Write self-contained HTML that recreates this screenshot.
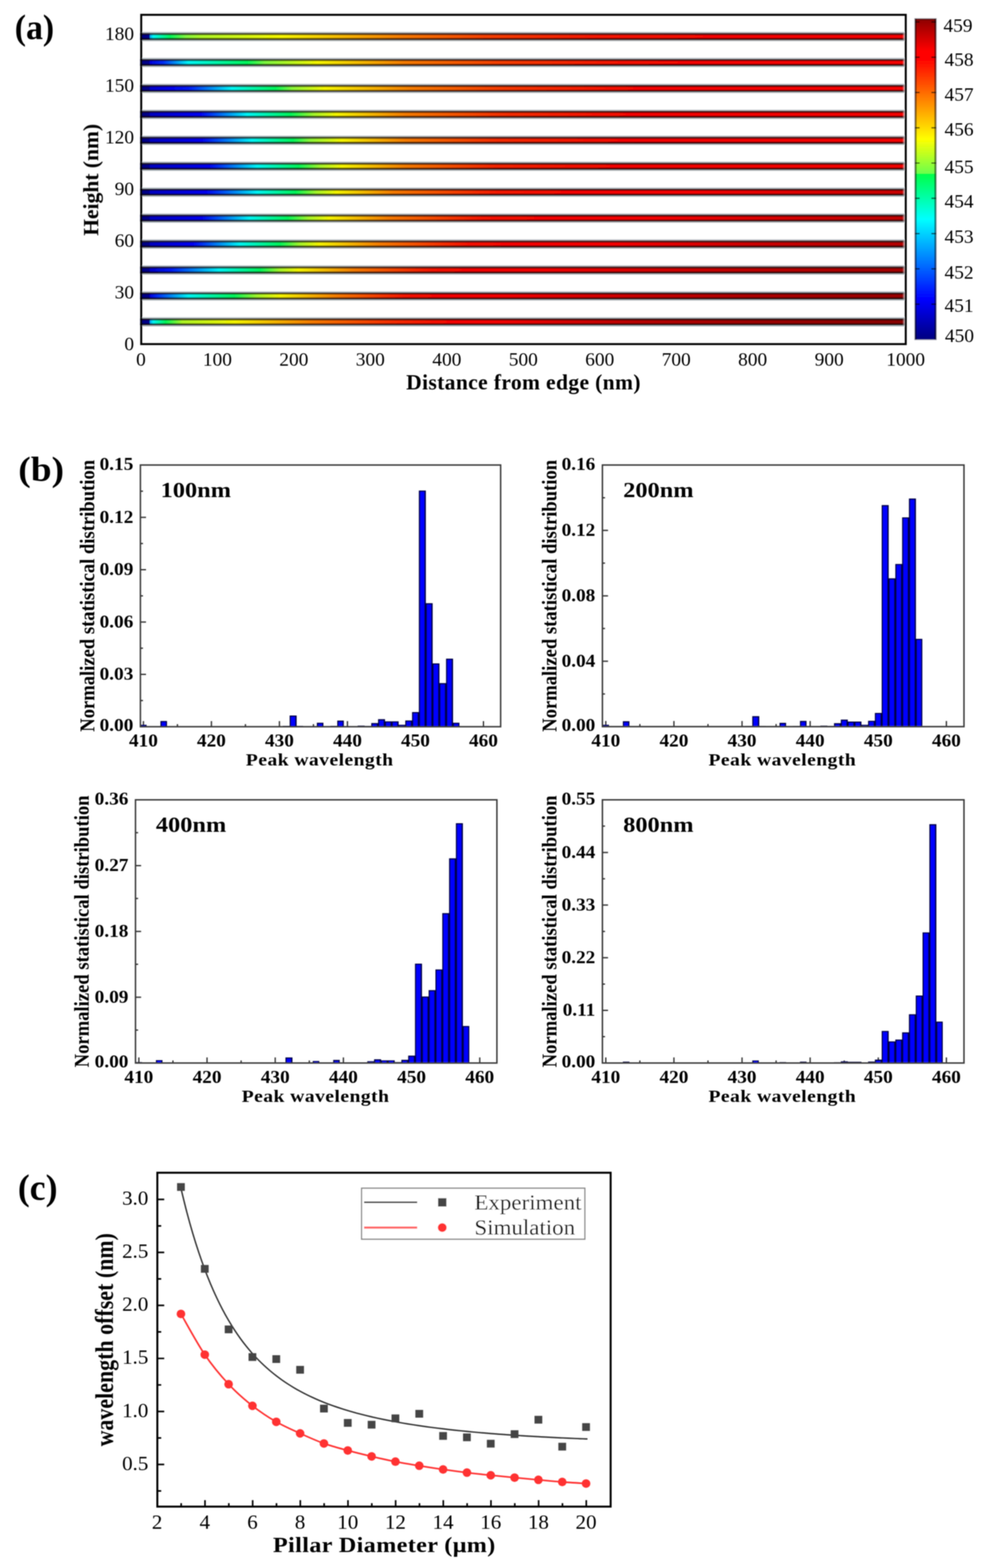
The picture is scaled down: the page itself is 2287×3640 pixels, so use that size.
<!DOCTYPE html>
<html lang="en"><head><meta charset="utf-8"><title>Figure</title>
<style>html,body{margin:0;padding:0;background:#fff}body{width:2287px;height:3640px}svg{display:block}text{font-family:'Liberation Serif', serif}</style>
</head><body>
<svg width="2287" height="3640" viewBox="0 0 2287 3640">
<rect width="2287" height="3640" fill="#fff"/>
<defs><filter id="bl" filterUnits="userSpaceOnUse" x="0" y="0" width="2287" height="3640"><feGaussianBlur stdDeviation="1.00"/></filter></defs>
<g filter="url(#bl)">
<defs>
<linearGradient id="se" x1="0" y1="0" x2="0" y2="1"><stop offset="0" stop-color="#2a2424" stop-opacity="0.9"/><stop offset="0.17" stop-color="#2a2020" stop-opacity="0.9"/><stop offset="0.23" stop-color="#000" stop-opacity="0.42"/><stop offset="0.42" stop-color="#000" stop-opacity="0"/><stop offset="0.58" stop-color="#000" stop-opacity="0.02"/><stop offset="0.77" stop-color="#000" stop-opacity="0.34"/><stop offset="0.83" stop-color="#180808" stop-opacity="0.92"/><stop offset="1" stop-color="#181010" stop-opacity="0.92"/></linearGradient>
<linearGradient id="sh" x1="0" y1="0" x2="0" y2="1"><stop offset="0" stop-color="#b8c0c6" stop-opacity="0"/><stop offset="0.06" stop-color="#b8c0c6" stop-opacity="1"/><stop offset="0.94" stop-color="#a4acb0" stop-opacity="1"/><stop offset="1" stop-color="#a4acb0" stop-opacity="0"/></linearGradient>
<linearGradient id="s0" x1="0" y1="0" x2="1" y2="0">
<stop offset="0.0000" stop-color="#000080"/>
<stop offset="0.0120" stop-color="#000094"/>
<stop offset="0.0130" stop-color="#00b2ff"/>
<stop offset="0.0170" stop-color="#00ffff"/>
<stop offset="0.0390" stop-color="#00ff5d"/>
<stop offset="0.0595" stop-color="#84ff40"/>
<stop offset="0.0800" stop-color="#b4ff27"/>
<stop offset="0.1062" stop-color="#c7ff1d"/>
<stop offset="0.1325" stop-color="#d9ff13"/>
<stop offset="0.1588" stop-color="#ecff0a"/>
<stop offset="0.1850" stop-color="#ffff00"/>
<stop offset="0.2108" stop-color="#ffea00"/>
<stop offset="0.2367" stop-color="#ffd500"/>
<stop offset="0.2625" stop-color="#ffbf00"/>
<stop offset="0.2883" stop-color="#ffaa00"/>
<stop offset="0.3142" stop-color="#ff9500"/>
<stop offset="0.3400" stop-color="#ff8000"/>
<stop offset="0.3675" stop-color="#ff7000"/>
<stop offset="0.3950" stop-color="#ff6100"/>
<stop offset="0.4225" stop-color="#ff5200"/>
<stop offset="0.4500" stop-color="#ff4200"/>
<stop offset="0.4750" stop-color="#ff3b00"/>
<stop offset="0.5000" stop-color="#ff3300"/>
<stop offset="0.5250" stop-color="#ff2b00"/>
<stop offset="0.5500" stop-color="#ff2400"/>
<stop offset="0.5750" stop-color="#ff1c00"/>
<stop offset="0.6000" stop-color="#ff1400"/>
<stop offset="0.6250" stop-color="#ff1200"/>
<stop offset="0.6500" stop-color="#ff0f00"/>
<stop offset="0.6750" stop-color="#ff0d00"/>
<stop offset="0.7000" stop-color="#ff0a00"/>
<stop offset="0.7250" stop-color="#ff0800"/>
<stop offset="0.7500" stop-color="#ff0500"/>
<stop offset="0.7750" stop-color="#ff0300"/>
<stop offset="0.8000" stop-color="#ff0000"/>
<stop offset="0.8250" stop-color="#ff0000"/>
<stop offset="0.8500" stop-color="#ff0000"/>
<stop offset="0.8750" stop-color="#ff0000"/>
<stop offset="0.9000" stop-color="#ff0000"/>
<stop offset="0.9250" stop-color="#ff0000"/>
<stop offset="0.9500" stop-color="#ff0000"/>
<stop offset="0.9750" stop-color="#ff0000"/>
<stop offset="1.0000" stop-color="#ff0000"/>
</linearGradient>
<linearGradient id="s1" x1="0" y1="0" x2="1" y2="0">
<stop offset="0.0000" stop-color="#000080"/>
<stop offset="0.0120" stop-color="#000094"/>
<stop offset="0.0130" stop-color="#0000e6"/>
<stop offset="0.0300" stop-color="#002eff"/>
<stop offset="0.0630" stop-color="#00ffff"/>
<stop offset="0.0887" stop-color="#00ffc9"/>
<stop offset="0.1143" stop-color="#00ff93"/>
<stop offset="0.1400" stop-color="#00ff5d"/>
<stop offset="0.1630" stop-color="#7fff42"/>
<stop offset="0.1860" stop-color="#a9ff2c"/>
<stop offset="0.2090" stop-color="#d4ff16"/>
<stop offset="0.2320" stop-color="#ffff00"/>
<stop offset="0.2546" stop-color="#ffe500"/>
<stop offset="0.2772" stop-color="#ffcc00"/>
<stop offset="0.2998" stop-color="#ffb300"/>
<stop offset="0.3224" stop-color="#ff9900"/>
<stop offset="0.3450" stop-color="#ff8000"/>
<stop offset="0.3690" stop-color="#ff7300"/>
<stop offset="0.3930" stop-color="#ff6700"/>
<stop offset="0.4170" stop-color="#ff5b00"/>
<stop offset="0.4410" stop-color="#ff4f00"/>
<stop offset="0.4650" stop-color="#ff4200"/>
<stop offset="0.4914" stop-color="#ff3a00"/>
<stop offset="0.5179" stop-color="#ff3200"/>
<stop offset="0.5443" stop-color="#ff2a00"/>
<stop offset="0.5707" stop-color="#ff2200"/>
<stop offset="0.5971" stop-color="#ff1a00"/>
<stop offset="0.6236" stop-color="#ff1200"/>
<stop offset="0.6500" stop-color="#ff0a00"/>
<stop offset="0.6750" stop-color="#ff0800"/>
<stop offset="0.7000" stop-color="#ff0700"/>
<stop offset="0.7250" stop-color="#ff0500"/>
<stop offset="0.7500" stop-color="#ff0300"/>
<stop offset="0.7750" stop-color="#ff0200"/>
<stop offset="0.8000" stop-color="#ff0000"/>
<stop offset="0.8250" stop-color="#ff0000"/>
<stop offset="0.8500" stop-color="#ff0000"/>
<stop offset="0.8750" stop-color="#ff0000"/>
<stop offset="0.9000" stop-color="#ff0000"/>
<stop offset="0.9250" stop-color="#ff0000"/>
<stop offset="0.9500" stop-color="#ff0000"/>
<stop offset="0.9750" stop-color="#ff0000"/>
<stop offset="1.0000" stop-color="#ff0000"/>
</linearGradient>
<linearGradient id="s2" x1="0" y1="0" x2="1" y2="0">
<stop offset="0.0000" stop-color="#000080"/>
<stop offset="0.0120" stop-color="#000094"/>
<stop offset="0.0130" stop-color="#0000d1"/>
<stop offset="0.0380" stop-color="#0000f5"/>
<stop offset="0.0630" stop-color="#0019ff"/>
<stop offset="0.0915" stop-color="#008cff"/>
<stop offset="0.1200" stop-color="#00ffff"/>
<stop offset="0.1485" stop-color="#00ffae"/>
<stop offset="0.1770" stop-color="#00ff5d"/>
<stop offset="0.1987" stop-color="#8dff3b"/>
<stop offset="0.2203" stop-color="#c6ff1e"/>
<stop offset="0.2420" stop-color="#ffff00"/>
<stop offset="0.2646" stop-color="#ffe500"/>
<stop offset="0.2872" stop-color="#ffcc00"/>
<stop offset="0.3098" stop-color="#ffb300"/>
<stop offset="0.3324" stop-color="#ff9900"/>
<stop offset="0.3550" stop-color="#ff8000"/>
<stop offset="0.3780" stop-color="#ff7200"/>
<stop offset="0.4010" stop-color="#ff6500"/>
<stop offset="0.4240" stop-color="#ff5800"/>
<stop offset="0.4470" stop-color="#ff4a00"/>
<stop offset="0.4700" stop-color="#ff3d00"/>
<stop offset="0.4957" stop-color="#ff3500"/>
<stop offset="0.5214" stop-color="#ff2d00"/>
<stop offset="0.5471" stop-color="#ff2500"/>
<stop offset="0.5729" stop-color="#ff1d00"/>
<stop offset="0.5986" stop-color="#ff1500"/>
<stop offset="0.6243" stop-color="#ff0d00"/>
<stop offset="0.6500" stop-color="#ff0500"/>
<stop offset="0.6750" stop-color="#ff0400"/>
<stop offset="0.7000" stop-color="#ff0200"/>
<stop offset="0.7250" stop-color="#ff0100"/>
<stop offset="0.7500" stop-color="#ff0000"/>
<stop offset="0.7750" stop-color="#ff0000"/>
<stop offset="0.8000" stop-color="#ff0000"/>
<stop offset="0.8250" stop-color="#ff0000"/>
<stop offset="0.8500" stop-color="#ff0000"/>
<stop offset="0.8750" stop-color="#ff0000"/>
<stop offset="0.9000" stop-color="#ff0000"/>
<stop offset="0.9250" stop-color="#ff0000"/>
<stop offset="0.9500" stop-color="#ff0000"/>
<stop offset="0.9750" stop-color="#ff0000"/>
<stop offset="1.0000" stop-color="#ff0000"/>
</linearGradient>
<linearGradient id="s3" x1="0" y1="0" x2="1" y2="0">
<stop offset="0.0000" stop-color="#000080"/>
<stop offset="0.0120" stop-color="#000094"/>
<stop offset="0.0130" stop-color="#0000c7"/>
<stop offset="0.0353" stop-color="#0000db"/>
<stop offset="0.0577" stop-color="#0000f0"/>
<stop offset="0.0800" stop-color="#0005ff"/>
<stop offset="0.1100" stop-color="#0082ff"/>
<stop offset="0.1400" stop-color="#00ffff"/>
<stop offset="0.1685" stop-color="#00ffae"/>
<stop offset="0.1970" stop-color="#00ff5d"/>
<stop offset="0.2270" stop-color="#a9ff2c"/>
<stop offset="0.2570" stop-color="#ffff00"/>
<stop offset="0.2795" stop-color="#ffdf00"/>
<stop offset="0.3020" stop-color="#ffbf00"/>
<stop offset="0.3245" stop-color="#ff9f00"/>
<stop offset="0.3470" stop-color="#ff8000"/>
<stop offset="0.3736" stop-color="#ff6f00"/>
<stop offset="0.4002" stop-color="#ff5f00"/>
<stop offset="0.4268" stop-color="#ff4f00"/>
<stop offset="0.4534" stop-color="#ff3e00"/>
<stop offset="0.4800" stop-color="#ff2e00"/>
<stop offset="0.5043" stop-color="#ff2800"/>
<stop offset="0.5286" stop-color="#ff2200"/>
<stop offset="0.5529" stop-color="#ff1c00"/>
<stop offset="0.5771" stop-color="#ff1500"/>
<stop offset="0.6014" stop-color="#ff0f00"/>
<stop offset="0.6257" stop-color="#ff0900"/>
<stop offset="0.6500" stop-color="#ff0300"/>
<stop offset="0.6750" stop-color="#ff0200"/>
<stop offset="0.7000" stop-color="#ff0000"/>
<stop offset="0.7250" stop-color="#ff0000"/>
<stop offset="0.7500" stop-color="#ff0000"/>
<stop offset="0.7750" stop-color="#ff0000"/>
<stop offset="0.8000" stop-color="#ff0000"/>
<stop offset="0.8250" stop-color="#ff0000"/>
<stop offset="0.8500" stop-color="#ff0000"/>
<stop offset="0.8750" stop-color="#ff0000"/>
<stop offset="0.9000" stop-color="#ff0000"/>
<stop offset="0.9250" stop-color="#ff0000"/>
<stop offset="0.9500" stop-color="#ff0000"/>
<stop offset="0.9750" stop-color="#ff0000"/>
<stop offset="1.0000" stop-color="#ff0000"/>
</linearGradient>
<linearGradient id="s4" x1="0" y1="0" x2="1" y2="0">
<stop offset="0.0000" stop-color="#000080"/>
<stop offset="0.0120" stop-color="#000094"/>
<stop offset="0.0130" stop-color="#0000c7"/>
<stop offset="0.0353" stop-color="#0000d8"/>
<stop offset="0.0577" stop-color="#0000e9"/>
<stop offset="0.0800" stop-color="#0000fa"/>
<stop offset="0.1020" stop-color="#0052ff"/>
<stop offset="0.1240" stop-color="#00a8ff"/>
<stop offset="0.1460" stop-color="#00ffff"/>
<stop offset="0.1730" stop-color="#00ffae"/>
<stop offset="0.2000" stop-color="#00ff5d"/>
<stop offset="0.2213" stop-color="#8dff3b"/>
<stop offset="0.2427" stop-color="#c6ff1e"/>
<stop offset="0.2640" stop-color="#ffff00"/>
<stop offset="0.2917" stop-color="#ffd500"/>
<stop offset="0.3193" stop-color="#ffaa00"/>
<stop offset="0.3470" stop-color="#ff8000"/>
<stop offset="0.3706" stop-color="#ff6f00"/>
<stop offset="0.3942" stop-color="#ff5f00"/>
<stop offset="0.4178" stop-color="#ff4f00"/>
<stop offset="0.4414" stop-color="#ff3e00"/>
<stop offset="0.4650" stop-color="#ff2e00"/>
<stop offset="0.4914" stop-color="#ff2700"/>
<stop offset="0.5179" stop-color="#ff2100"/>
<stop offset="0.5443" stop-color="#ff1a00"/>
<stop offset="0.5707" stop-color="#ff1400"/>
<stop offset="0.5971" stop-color="#ff0d00"/>
<stop offset="0.6236" stop-color="#ff0700"/>
<stop offset="0.6500" stop-color="#ff0000"/>
<stop offset="0.6750" stop-color="#ff0000"/>
<stop offset="0.7000" stop-color="#ff0000"/>
<stop offset="0.7250" stop-color="#ff0000"/>
<stop offset="0.7500" stop-color="#ff0000"/>
<stop offset="0.7750" stop-color="#ff0000"/>
<stop offset="0.8000" stop-color="#ff0000"/>
<stop offset="0.8250" stop-color="#ff0000"/>
<stop offset="0.8500" stop-color="#ff0000"/>
<stop offset="0.8750" stop-color="#ff0000"/>
<stop offset="0.9000" stop-color="#ff0000"/>
<stop offset="0.9250" stop-color="#ff0000"/>
<stop offset="0.9500" stop-color="#ff0000"/>
<stop offset="0.9750" stop-color="#ff0000"/>
<stop offset="1.0000" stop-color="#ff0000"/>
</linearGradient>
<linearGradient id="s5" x1="0" y1="0" x2="1" y2="0">
<stop offset="0.0000" stop-color="#000080"/>
<stop offset="0.0120" stop-color="#000094"/>
<stop offset="0.0130" stop-color="#0000c7"/>
<stop offset="0.0387" stop-color="#0000d8"/>
<stop offset="0.0643" stop-color="#0000e9"/>
<stop offset="0.0900" stop-color="#0000fa"/>
<stop offset="0.1110" stop-color="#0052ff"/>
<stop offset="0.1320" stop-color="#00a8ff"/>
<stop offset="0.1530" stop-color="#00ffff"/>
<stop offset="0.1800" stop-color="#00ffae"/>
<stop offset="0.2070" stop-color="#00ff5d"/>
<stop offset="0.2355" stop-color="#a9ff2c"/>
<stop offset="0.2640" stop-color="#ffff00"/>
<stop offset="0.2917" stop-color="#ffd500"/>
<stop offset="0.3193" stop-color="#ffaa00"/>
<stop offset="0.3470" stop-color="#ff8000"/>
<stop offset="0.3706" stop-color="#ff6d00"/>
<stop offset="0.3942" stop-color="#ff5b00"/>
<stop offset="0.4178" stop-color="#ff4800"/>
<stop offset="0.4414" stop-color="#ff3600"/>
<stop offset="0.4650" stop-color="#ff2400"/>
<stop offset="0.4914" stop-color="#ff1f00"/>
<stop offset="0.5179" stop-color="#ff1a00"/>
<stop offset="0.5443" stop-color="#ff1400"/>
<stop offset="0.5707" stop-color="#ff0f00"/>
<stop offset="0.5971" stop-color="#ff0a00"/>
<stop offset="0.6236" stop-color="#ff0500"/>
<stop offset="0.6500" stop-color="#ff0000"/>
<stop offset="0.6750" stop-color="#ff0000"/>
<stop offset="0.7000" stop-color="#ff0000"/>
<stop offset="0.7250" stop-color="#ff0000"/>
<stop offset="0.7500" stop-color="#ff0000"/>
<stop offset="0.7750" stop-color="#ff0000"/>
<stop offset="0.8000" stop-color="#ff0000"/>
<stop offset="0.8250" stop-color="#ff0000"/>
<stop offset="0.8500" stop-color="#ff0000"/>
<stop offset="0.8750" stop-color="#ff0000"/>
<stop offset="0.9000" stop-color="#ff0000"/>
<stop offset="0.9250" stop-color="#ff0000"/>
<stop offset="0.9500" stop-color="#fe0000"/>
<stop offset="0.9750" stop-color="#fc0000"/>
<stop offset="1.0000" stop-color="#f90000"/>
</linearGradient>
<linearGradient id="s6" x1="0" y1="0" x2="1" y2="0">
<stop offset="0.0000" stop-color="#000080"/>
<stop offset="0.0120" stop-color="#000094"/>
<stop offset="0.0130" stop-color="#0000c7"/>
<stop offset="0.0373" stop-color="#0000d8"/>
<stop offset="0.0617" stop-color="#0000e9"/>
<stop offset="0.0860" stop-color="#0000fa"/>
<stop offset="0.1083" stop-color="#0052ff"/>
<stop offset="0.1307" stop-color="#00a8ff"/>
<stop offset="0.1530" stop-color="#00ffff"/>
<stop offset="0.1780" stop-color="#00ffae"/>
<stop offset="0.2030" stop-color="#00ff5d"/>
<stop offset="0.2300" stop-color="#a9ff2c"/>
<stop offset="0.2570" stop-color="#ffff00"/>
<stop offset="0.2817" stop-color="#ffd500"/>
<stop offset="0.3063" stop-color="#ffaa00"/>
<stop offset="0.3310" stop-color="#ff8000"/>
<stop offset="0.3578" stop-color="#ff6b00"/>
<stop offset="0.3846" stop-color="#ff5700"/>
<stop offset="0.4114" stop-color="#ff4200"/>
<stop offset="0.4382" stop-color="#ff2e00"/>
<stop offset="0.4650" stop-color="#ff1a00"/>
<stop offset="0.4914" stop-color="#ff1400"/>
<stop offset="0.5179" stop-color="#ff0e00"/>
<stop offset="0.5443" stop-color="#ff0800"/>
<stop offset="0.5707" stop-color="#ff0200"/>
<stop offset="0.5971" stop-color="#ff0000"/>
<stop offset="0.6236" stop-color="#ff0000"/>
<stop offset="0.6500" stop-color="#ff0000"/>
<stop offset="0.6750" stop-color="#ff0000"/>
<stop offset="0.7000" stop-color="#ff0000"/>
<stop offset="0.7250" stop-color="#ff0000"/>
<stop offset="0.7500" stop-color="#fb0000"/>
<stop offset="0.7750" stop-color="#f70000"/>
<stop offset="0.8000" stop-color="#f40000"/>
<stop offset="0.8250" stop-color="#ef0000"/>
<stop offset="0.8500" stop-color="#eb0000"/>
<stop offset="0.8750" stop-color="#e70000"/>
<stop offset="0.9000" stop-color="#e20000"/>
<stop offset="0.9250" stop-color="#de0000"/>
<stop offset="0.9500" stop-color="#da0000"/>
<stop offset="0.9750" stop-color="#d50000"/>
<stop offset="1.0000" stop-color="#d10000"/>
</linearGradient>
<linearGradient id="s7" x1="0" y1="0" x2="1" y2="0">
<stop offset="0.0000" stop-color="#000080"/>
<stop offset="0.0120" stop-color="#000094"/>
<stop offset="0.0130" stop-color="#0000c7"/>
<stop offset="0.0353" stop-color="#0000d8"/>
<stop offset="0.0577" stop-color="#0000e9"/>
<stop offset="0.0800" stop-color="#0000fa"/>
<stop offset="0.1010" stop-color="#0052ff"/>
<stop offset="0.1220" stop-color="#00a8ff"/>
<stop offset="0.1430" stop-color="#00ffff"/>
<stop offset="0.1680" stop-color="#00ffae"/>
<stop offset="0.1930" stop-color="#00ff5d"/>
<stop offset="0.2200" stop-color="#a9ff2c"/>
<stop offset="0.2470" stop-color="#ffff00"/>
<stop offset="0.2727" stop-color="#ffd500"/>
<stop offset="0.2983" stop-color="#ffaa00"/>
<stop offset="0.3240" stop-color="#ff8000"/>
<stop offset="0.3488" stop-color="#ff6a00"/>
<stop offset="0.3736" stop-color="#ff5500"/>
<stop offset="0.3984" stop-color="#ff3f00"/>
<stop offset="0.4232" stop-color="#ff2a00"/>
<stop offset="0.4480" stop-color="#ff1400"/>
<stop offset="0.4733" stop-color="#ff0f00"/>
<stop offset="0.4985" stop-color="#ff0a00"/>
<stop offset="0.5238" stop-color="#ff0500"/>
<stop offset="0.5490" stop-color="#ff0000"/>
<stop offset="0.5743" stop-color="#ff0000"/>
<stop offset="0.5995" stop-color="#ff0000"/>
<stop offset="0.6248" stop-color="#ff0000"/>
<stop offset="0.6500" stop-color="#ff0000"/>
<stop offset="0.6750" stop-color="#ff0000"/>
<stop offset="0.7000" stop-color="#fb0000"/>
<stop offset="0.7250" stop-color="#f60000"/>
<stop offset="0.7500" stop-color="#f20000"/>
<stop offset="0.7750" stop-color="#ed0000"/>
<stop offset="0.8000" stop-color="#e80000"/>
<stop offset="0.8250" stop-color="#e40000"/>
<stop offset="0.8500" stop-color="#df0000"/>
<stop offset="0.8750" stop-color="#db0000"/>
<stop offset="0.9000" stop-color="#d70000"/>
<stop offset="0.9250" stop-color="#d30000"/>
<stop offset="0.9500" stop-color="#ce0000"/>
<stop offset="0.9750" stop-color="#ca0000"/>
<stop offset="1.0000" stop-color="#c60000"/>
</linearGradient>
<linearGradient id="s8" x1="0" y1="0" x2="1" y2="0">
<stop offset="0.0000" stop-color="#000080"/>
<stop offset="0.0120" stop-color="#000094"/>
<stop offset="0.0130" stop-color="#0000c7"/>
<stop offset="0.0415" stop-color="#0000e6"/>
<stop offset="0.0700" stop-color="#0005ff"/>
<stop offset="0.1000" stop-color="#0082ff"/>
<stop offset="0.1300" stop-color="#00ffff"/>
<stop offset="0.1565" stop-color="#00ffae"/>
<stop offset="0.1830" stop-color="#00ff5d"/>
<stop offset="0.2085" stop-color="#a9ff2c"/>
<stop offset="0.2340" stop-color="#ffff00"/>
<stop offset="0.2607" stop-color="#ffd500"/>
<stop offset="0.2873" stop-color="#ffaa00"/>
<stop offset="0.3140" stop-color="#ff8000"/>
<stop offset="0.3374" stop-color="#ff6900"/>
<stop offset="0.3608" stop-color="#ff5300"/>
<stop offset="0.3842" stop-color="#ff3c00"/>
<stop offset="0.4076" stop-color="#ff2600"/>
<stop offset="0.4310" stop-color="#ff0f00"/>
<stop offset="0.4553" stop-color="#ff0a00"/>
<stop offset="0.4797" stop-color="#ff0500"/>
<stop offset="0.5040" stop-color="#ff0000"/>
<stop offset="0.5283" stop-color="#ff0000"/>
<stop offset="0.5527" stop-color="#ff0000"/>
<stop offset="0.5770" stop-color="#ff0000"/>
<stop offset="0.6013" stop-color="#ff0000"/>
<stop offset="0.6257" stop-color="#ff0000"/>
<stop offset="0.6500" stop-color="#f90000"/>
<stop offset="0.6750" stop-color="#f40000"/>
<stop offset="0.7000" stop-color="#ee0000"/>
<stop offset="0.7250" stop-color="#e80000"/>
<stop offset="0.7500" stop-color="#e20000"/>
<stop offset="0.7750" stop-color="#dd0000"/>
<stop offset="0.8000" stop-color="#d70000"/>
<stop offset="0.8250" stop-color="#d30000"/>
<stop offset="0.8500" stop-color="#d00000"/>
<stop offset="0.8750" stop-color="#cc0000"/>
<stop offset="0.9000" stop-color="#c80000"/>
<stop offset="0.9250" stop-color="#c50000"/>
<stop offset="0.9500" stop-color="#c10000"/>
<stop offset="0.9750" stop-color="#be0000"/>
<stop offset="1.0000" stop-color="#ba0000"/>
</linearGradient>
<linearGradient id="s9" x1="0" y1="0" x2="1" y2="0">
<stop offset="0.0000" stop-color="#000080"/>
<stop offset="0.0120" stop-color="#000094"/>
<stop offset="0.0130" stop-color="#0000d1"/>
<stop offset="0.0400" stop-color="#0019ff"/>
<stop offset="0.0610" stop-color="#0066ff"/>
<stop offset="0.0820" stop-color="#00b2ff"/>
<stop offset="0.1030" stop-color="#00ffff"/>
<stop offset="0.1300" stop-color="#00ffae"/>
<stop offset="0.1570" stop-color="#00ff5d"/>
<stop offset="0.1820" stop-color="#a9ff2c"/>
<stop offset="0.2070" stop-color="#ffff00"/>
<stop offset="0.2313" stop-color="#ffd500"/>
<stop offset="0.2557" stop-color="#ffaa00"/>
<stop offset="0.2800" stop-color="#ff8000"/>
<stop offset="0.3053" stop-color="#ff6500"/>
<stop offset="0.3305" stop-color="#ff4a00"/>
<stop offset="0.3558" stop-color="#ff2f00"/>
<stop offset="0.3810" stop-color="#ff1400"/>
<stop offset="0.4048" stop-color="#ff0c00"/>
<stop offset="0.4286" stop-color="#ff0400"/>
<stop offset="0.4524" stop-color="#ff0000"/>
<stop offset="0.4762" stop-color="#ff0000"/>
<stop offset="0.5000" stop-color="#ff0000"/>
<stop offset="0.5250" stop-color="#ff0000"/>
<stop offset="0.5500" stop-color="#f90000"/>
<stop offset="0.5750" stop-color="#f40000"/>
<stop offset="0.6000" stop-color="#ee0000"/>
<stop offset="0.6250" stop-color="#e80000"/>
<stop offset="0.6500" stop-color="#e20000"/>
<stop offset="0.6750" stop-color="#de0000"/>
<stop offset="0.7000" stop-color="#d90000"/>
<stop offset="0.7250" stop-color="#d40000"/>
<stop offset="0.7500" stop-color="#cf0000"/>
<stop offset="0.7750" stop-color="#ca0000"/>
<stop offset="0.8000" stop-color="#c60000"/>
<stop offset="0.8250" stop-color="#c20000"/>
<stop offset="0.8500" stop-color="#be0000"/>
<stop offset="0.8750" stop-color="#bb0000"/>
<stop offset="0.9000" stop-color="#b70000"/>
<stop offset="0.9250" stop-color="#b40000"/>
<stop offset="0.9500" stop-color="#b00000"/>
<stop offset="0.9750" stop-color="#ad0000"/>
<stop offset="1.0000" stop-color="#a90000"/>
</linearGradient>
<linearGradient id="s10" x1="0" y1="0" x2="1" y2="0">
<stop offset="0.0000" stop-color="#000080"/>
<stop offset="0.0120" stop-color="#000094"/>
<stop offset="0.0130" stop-color="#0000e6"/>
<stop offset="0.0220" stop-color="#002eff"/>
<stop offset="0.0425" stop-color="#0096ff"/>
<stop offset="0.0630" stop-color="#00ffff"/>
<stop offset="0.0930" stop-color="#00ffae"/>
<stop offset="0.1230" stop-color="#00ff5d"/>
<stop offset="0.1530" stop-color="#a9ff2c"/>
<stop offset="0.1830" stop-color="#ffff00"/>
<stop offset="0.2077" stop-color="#ffd500"/>
<stop offset="0.2323" stop-color="#ffaa00"/>
<stop offset="0.2570" stop-color="#ff8000"/>
<stop offset="0.2795" stop-color="#ff6500"/>
<stop offset="0.3020" stop-color="#ff4a00"/>
<stop offset="0.3245" stop-color="#ff2f00"/>
<stop offset="0.3470" stop-color="#ff1400"/>
<stop offset="0.3728" stop-color="#ff0a00"/>
<stop offset="0.3985" stop-color="#ff0000"/>
<stop offset="0.4243" stop-color="#ff0000"/>
<stop offset="0.4500" stop-color="#ff0000"/>
<stop offset="0.4750" stop-color="#fe0000"/>
<stop offset="0.5000" stop-color="#f80000"/>
<stop offset="0.5250" stop-color="#f10000"/>
<stop offset="0.5500" stop-color="#eb0000"/>
<stop offset="0.5750" stop-color="#e40000"/>
<stop offset="0.6000" stop-color="#de0000"/>
<stop offset="0.6250" stop-color="#d80000"/>
<stop offset="0.6500" stop-color="#d10000"/>
<stop offset="0.6750" stop-color="#cc0000"/>
<stop offset="0.7000" stop-color="#c80000"/>
<stop offset="0.7250" stop-color="#c30000"/>
<stop offset="0.7500" stop-color="#be0000"/>
<stop offset="0.7750" stop-color="#b90000"/>
<stop offset="0.8000" stop-color="#b40000"/>
<stop offset="0.8250" stop-color="#b20000"/>
<stop offset="0.8500" stop-color="#af0000"/>
<stop offset="0.8750" stop-color="#ac0000"/>
<stop offset="0.9000" stop-color="#a90000"/>
<stop offset="0.9250" stop-color="#a60000"/>
<stop offset="0.9500" stop-color="#a30000"/>
<stop offset="0.9750" stop-color="#a00000"/>
<stop offset="1.0000" stop-color="#9d0000"/>
</linearGradient>
<linearGradient id="s11" x1="0" y1="0" x2="1" y2="0">
<stop offset="0.0000" stop-color="#000080"/>
<stop offset="0.0120" stop-color="#000094"/>
<stop offset="0.0130" stop-color="#00b2ff"/>
<stop offset="0.0170" stop-color="#00ffff"/>
<stop offset="0.0330" stop-color="#00ff5d"/>
<stop offset="0.0550" stop-color="#b4ff27"/>
<stop offset="0.0780" stop-color="#cdff1a"/>
<stop offset="0.1010" stop-color="#e6ff0d"/>
<stop offset="0.1240" stop-color="#ffff00"/>
<stop offset="0.1492" stop-color="#ffdf00"/>
<stop offset="0.1745" stop-color="#ffbf00"/>
<stop offset="0.1998" stop-color="#ff9f00"/>
<stop offset="0.2250" stop-color="#ff8000"/>
<stop offset="0.2512" stop-color="#ff6b00"/>
<stop offset="0.2775" stop-color="#ff5700"/>
<stop offset="0.3038" stop-color="#ff4200"/>
<stop offset="0.3300" stop-color="#ff2e00"/>
<stop offset="0.3540" stop-color="#ff2100"/>
<stop offset="0.3780" stop-color="#ff1300"/>
<stop offset="0.4020" stop-color="#ff0600"/>
<stop offset="0.4260" stop-color="#ff0000"/>
<stop offset="0.4500" stop-color="#ff0000"/>
<stop offset="0.4750" stop-color="#fc0000"/>
<stop offset="0.5000" stop-color="#f40000"/>
<stop offset="0.5250" stop-color="#eb0000"/>
<stop offset="0.5500" stop-color="#e20000"/>
<stop offset="0.5750" stop-color="#da0000"/>
<stop offset="0.6000" stop-color="#d10000"/>
<stop offset="0.6250" stop-color="#c80000"/>
<stop offset="0.6500" stop-color="#c00000"/>
<stop offset="0.6750" stop-color="#bb0000"/>
<stop offset="0.7000" stop-color="#b60000"/>
<stop offset="0.7250" stop-color="#b20000"/>
<stop offset="0.7500" stop-color="#ad0000"/>
<stop offset="0.7750" stop-color="#a80000"/>
<stop offset="0.8000" stop-color="#a30000"/>
<stop offset="0.8250" stop-color="#a00000"/>
<stop offset="0.8500" stop-color="#9d0000"/>
<stop offset="0.8750" stop-color="#9b0000"/>
<stop offset="0.9000" stop-color="#980000"/>
<stop offset="0.9250" stop-color="#950000"/>
<stop offset="0.9500" stop-color="#920000"/>
<stop offset="0.9750" stop-color="#8f0000"/>
<stop offset="1.0000" stop-color="#8c0000"/>
</linearGradient>
<linearGradient id="cb" x1="0" y1="1" x2="0" y2="0">
<stop offset="0.0000" stop-color="#000080"/>
<stop offset="0.0250" stop-color="#000099"/>
<stop offset="0.0500" stop-color="#0000b2"/>
<stop offset="0.0750" stop-color="#0000cc"/>
<stop offset="0.1000" stop-color="#0000e6"/>
<stop offset="0.1250" stop-color="#0000ff"/>
<stop offset="0.1500" stop-color="#0019ff"/>
<stop offset="0.1750" stop-color="#0033ff"/>
<stop offset="0.2000" stop-color="#004dff"/>
<stop offset="0.2250" stop-color="#0066ff"/>
<stop offset="0.2500" stop-color="#0080ff"/>
<stop offset="0.2750" stop-color="#0099ff"/>
<stop offset="0.3000" stop-color="#00b2ff"/>
<stop offset="0.3250" stop-color="#00ccff"/>
<stop offset="0.3500" stop-color="#00e5ff"/>
<stop offset="0.3750" stop-color="#00ffff"/>
<stop offset="0.4000" stop-color="#00ffdf"/>
<stop offset="0.4250" stop-color="#00ffbe"/>
<stop offset="0.4500" stop-color="#00ff9e"/>
<stop offset="0.4750" stop-color="#00ff7e"/>
<stop offset="0.5000" stop-color="#00ff5d"/>
<stop offset="0.5169" stop-color="#00ff48"/>
<stop offset="0.5171" stop-color="#6bff4c"/>
<stop offset="0.5250" stop-color="#76ff47"/>
<stop offset="0.5500" stop-color="#98ff35"/>
<stop offset="0.5750" stop-color="#bbff23"/>
<stop offset="0.6000" stop-color="#ddff12"/>
<stop offset="0.6250" stop-color="#ffff00"/>
<stop offset="0.6500" stop-color="#ffe500"/>
<stop offset="0.6750" stop-color="#ffcc00"/>
<stop offset="0.7000" stop-color="#ffb300"/>
<stop offset="0.7250" stop-color="#ff9900"/>
<stop offset="0.7500" stop-color="#ff8000"/>
<stop offset="0.7750" stop-color="#ff6600"/>
<stop offset="0.8000" stop-color="#ff4c00"/>
<stop offset="0.8250" stop-color="#ff3300"/>
<stop offset="0.8500" stop-color="#ff1a00"/>
<stop offset="0.8750" stop-color="#ff0000"/>
<stop offset="0.9000" stop-color="#ff0000"/>
<stop offset="0.9250" stop-color="#e20000"/>
<stop offset="0.9500" stop-color="#c60000"/>
<stop offset="0.9750" stop-color="#a90000"/>
<stop offset="1.0000" stop-color="#8c0000"/>
</linearGradient>
</defs>
<rect x="325.60" y="73.30" width="1774.70" height="22.80" fill="url(#sh)"/>
<rect x="325.60" y="76.80" width="1773.70" height="15.80" fill="url(#s0)"/>
<rect x="325.60" y="76.80" width="1773.70" height="15.80" fill="url(#se)"/>
<rect x="2096.90" y="75.70" width="2.4" height="18.00" fill="#fff" fill-opacity="0.4"/>
<rect x="325.60" y="133.52" width="1774.70" height="22.80" fill="url(#sh)"/>
<rect x="325.60" y="137.02" width="1773.70" height="15.80" fill="url(#s1)"/>
<rect x="325.60" y="137.02" width="1773.70" height="15.80" fill="url(#se)"/>
<rect x="2096.90" y="135.92" width="2.4" height="18.00" fill="#fff" fill-opacity="0.4"/>
<rect x="325.60" y="193.74" width="1774.70" height="22.80" fill="url(#sh)"/>
<rect x="325.60" y="197.24" width="1773.70" height="15.80" fill="url(#s2)"/>
<rect x="325.60" y="197.24" width="1773.70" height="15.80" fill="url(#se)"/>
<rect x="2096.90" y="196.14" width="2.4" height="18.00" fill="#fff" fill-opacity="0.4"/>
<rect x="325.60" y="253.95" width="1774.70" height="22.80" fill="url(#sh)"/>
<rect x="325.60" y="257.45" width="1773.70" height="15.80" fill="url(#s3)"/>
<rect x="325.60" y="257.45" width="1773.70" height="15.80" fill="url(#se)"/>
<rect x="2096.90" y="256.35" width="2.4" height="18.00" fill="#fff" fill-opacity="0.4"/>
<rect x="325.60" y="314.17" width="1774.70" height="22.80" fill="url(#sh)"/>
<rect x="325.60" y="317.67" width="1773.70" height="15.80" fill="url(#s4)"/>
<rect x="325.60" y="317.67" width="1773.70" height="15.80" fill="url(#se)"/>
<rect x="2096.90" y="316.57" width="2.4" height="18.00" fill="#fff" fill-opacity="0.4"/>
<rect x="325.60" y="374.39" width="1774.70" height="22.80" fill="url(#sh)"/>
<rect x="325.60" y="377.89" width="1773.70" height="15.80" fill="url(#s5)"/>
<rect x="325.60" y="377.89" width="1773.70" height="15.80" fill="url(#se)"/>
<rect x="2096.90" y="376.79" width="2.4" height="18.00" fill="#fff" fill-opacity="0.4"/>
<rect x="325.60" y="434.61" width="1774.70" height="22.80" fill="url(#sh)"/>
<rect x="325.60" y="438.11" width="1773.70" height="15.80" fill="url(#s6)"/>
<rect x="325.60" y="438.11" width="1773.70" height="15.80" fill="url(#se)"/>
<rect x="2096.90" y="437.01" width="2.4" height="18.00" fill="#fff" fill-opacity="0.4"/>
<rect x="325.60" y="494.83" width="1774.70" height="22.80" fill="url(#sh)"/>
<rect x="325.60" y="498.33" width="1773.70" height="15.80" fill="url(#s7)"/>
<rect x="325.60" y="498.33" width="1773.70" height="15.80" fill="url(#se)"/>
<rect x="2096.90" y="497.23" width="2.4" height="18.00" fill="#fff" fill-opacity="0.4"/>
<rect x="325.60" y="555.05" width="1774.70" height="22.80" fill="url(#sh)"/>
<rect x="325.60" y="558.55" width="1773.70" height="15.80" fill="url(#s8)"/>
<rect x="325.60" y="558.55" width="1773.70" height="15.80" fill="url(#se)"/>
<rect x="2096.90" y="557.45" width="2.4" height="18.00" fill="#fff" fill-opacity="0.4"/>
<rect x="325.60" y="615.26" width="1774.70" height="22.80" fill="url(#sh)"/>
<rect x="325.60" y="618.76" width="1773.70" height="15.80" fill="url(#s9)"/>
<rect x="325.60" y="618.76" width="1773.70" height="15.80" fill="url(#se)"/>
<rect x="2096.90" y="617.66" width="2.4" height="18.00" fill="#fff" fill-opacity="0.4"/>
<rect x="325.60" y="675.48" width="1774.70" height="22.80" fill="url(#sh)"/>
<rect x="325.60" y="678.98" width="1773.70" height="15.80" fill="url(#s10)"/>
<rect x="325.60" y="678.98" width="1773.70" height="15.80" fill="url(#se)"/>
<rect x="2096.90" y="677.88" width="2.4" height="18.00" fill="#fff" fill-opacity="0.4"/>
<rect x="325.60" y="735.70" width="1774.70" height="22.80" fill="url(#sh)"/>
<rect x="325.60" y="739.20" width="1773.70" height="15.80" fill="url(#s11)"/>
<rect x="325.60" y="739.20" width="1773.70" height="15.80" fill="url(#se)"/>
<rect x="2096.90" y="738.10" width="2.4" height="18.00" fill="#fff" fill-opacity="0.4"/>
<rect x="327.90" y="34.40" width="1775.10" height="764.40" fill="none" stroke="#000" stroke-width="4.6"/>
<text transform="translate(311.30 813.20)" font-size="45.00" text-anchor="end" fill="#000">0</text>
<text transform="translate(311.30 693.20)" font-size="45.00" text-anchor="end" fill="#000">30</text>
<text transform="translate(311.30 573.20)" font-size="45.00" text-anchor="end" fill="#000">60</text>
<text transform="translate(311.30 453.20)" font-size="45.00" text-anchor="end" fill="#000">90</text>
<text transform="translate(311.30 333.20)" font-size="45.00" text-anchor="end" fill="#000">120</text>
<text transform="translate(311.30 213.20)" font-size="45.00" text-anchor="end" fill="#000">150</text>
<text transform="translate(311.30 93.20)" font-size="45.00" text-anchor="end" fill="#000">180</text>
<text transform="translate(327.20 849.20)" font-size="45.00" text-anchor="middle" fill="#000">0</text>
<text transform="translate(504.75 849.20)" font-size="45.00" text-anchor="middle" fill="#000">100</text>
<text transform="translate(682.30 849.20)" font-size="45.00" text-anchor="middle" fill="#000">200</text>
<text transform="translate(859.85 849.20)" font-size="45.00" text-anchor="middle" fill="#000">300</text>
<text transform="translate(1037.40 849.20)" font-size="45.00" text-anchor="middle" fill="#000">400</text>
<text transform="translate(1214.95 849.20)" font-size="45.00" text-anchor="middle" fill="#000">500</text>
<text transform="translate(1392.50 849.20)" font-size="45.00" text-anchor="middle" fill="#000">600</text>
<text transform="translate(1570.05 849.20)" font-size="45.00" text-anchor="middle" fill="#000">700</text>
<text transform="translate(1747.60 849.20)" font-size="45.00" text-anchor="middle" fill="#000">800</text>
<text transform="translate(1925.15 849.20)" font-size="45.00" text-anchor="middle" fill="#000">900</text>
<text transform="translate(2102.70 849.20)" font-size="45.00" text-anchor="middle" fill="#000">1000</text>
<text transform="translate(1215.50 903.50)" font-size="50.00" text-anchor="middle" font-weight="bold" letter-spacing="0.85" fill="#000">Distance from edge (nm)</text>
<text transform="translate(228.00 417.50) rotate(-90)" font-size="50.00" text-anchor="middle" font-weight="bold" fill="#000">Height (nm)</text>
<text transform="translate(34.30 91.00) scale(0.9450 1)" font-size="83.00" text-anchor="start" font-weight="bold" fill="#000">(a)</text>
<rect x="2122.70" y="42.10" width="52.40" height="747.60" fill="#bdbdc4"/>
<rect x="2124.20" y="43.60" width="49.40" height="744.60" fill="url(#cb)"/>
<path d="M2126.20 43.60V788.20M2171.60 43.60V788.20" stroke="#000" stroke-opacity="0.5" stroke-width="4" fill="none"/>
<path d="M2124.20 45.10H2173.60" stroke="#000" stroke-opacity="0.35" stroke-width="3" fill="none"/>
<text transform="translate(2194.00 794.00)" font-size="45.00" text-anchor="start" fill="#000">450</text>
<path d="M2124.20 706.10h11M2173.60 706.10h-11" stroke="#000" stroke-opacity="0.62" stroke-width="3.2"/>
<text transform="translate(2193.00 724.20)" font-size="45.00" text-anchor="start" fill="#000">451</text>
<path d="M2124.20 624.20h11M2173.60 624.20h-11" stroke="#000" stroke-opacity="0.62" stroke-width="3.2"/>
<text transform="translate(2193.00 646.80)" font-size="45.00" text-anchor="start" fill="#000">452</text>
<path d="M2124.20 542.30h11M2173.60 542.30h-11" stroke="#000" stroke-opacity="0.62" stroke-width="3.2"/>
<text transform="translate(2193.00 564.10)" font-size="45.00" text-anchor="start" fill="#000">453</text>
<path d="M2124.20 460.40h11M2173.60 460.40h-11" stroke="#000" stroke-opacity="0.62" stroke-width="3.2"/>
<text transform="translate(2193.00 481.80)" font-size="45.00" text-anchor="start" fill="#000">454</text>
<path d="M2124.20 378.50h11M2173.60 378.50h-11" stroke="#000" stroke-opacity="0.62" stroke-width="3.2"/>
<text transform="translate(2193.00 402.00)" font-size="45.00" text-anchor="start" fill="#000">455</text>
<path d="M2124.20 296.60h11M2173.60 296.60h-11" stroke="#000" stroke-opacity="0.62" stroke-width="3.2"/>
<text transform="translate(2193.00 314.60)" font-size="45.00" text-anchor="start" fill="#000">456</text>
<path d="M2124.20 214.70h11M2173.60 214.70h-11" stroke="#000" stroke-opacity="0.62" stroke-width="3.2"/>
<text transform="translate(2193.00 233.70)" font-size="45.00" text-anchor="start" fill="#000">457</text>
<path d="M2124.20 132.80h11M2173.60 132.80h-11" stroke="#000" stroke-opacity="0.62" stroke-width="3.2"/>
<text transform="translate(2193.00 152.50)" font-size="45.00" text-anchor="start" fill="#000">458</text>
<path d="M2124.20 50.90h11M2173.60 50.90h-11" stroke="#000" stroke-opacity="0.62" stroke-width="3.2"/>
<text transform="translate(2190.50 74.00)" font-size="45.00" text-anchor="start" fill="#000">459</text>
<text transform="translate(42.50 1116.00) scale(1.0850 1)" font-size="80.00" text-anchor="start" font-weight="bold" fill="#000">(b)</text>
<path d="M333.00 1687.00v-13M411.95 1687.00v-6M490.90 1687.00v-13M569.85 1687.00v-6M648.80 1687.00v-13M727.75 1687.00v-6M806.70 1687.00v-13M885.65 1687.00v-6M964.60 1687.00v-13M1043.55 1687.00v-6M1122.50 1687.00v-13M326.00 1626.25h6M326.00 1565.50h13M326.00 1504.75h6M326.00 1444.00h13M326.00 1383.25h6M326.00 1322.50h13M326.00 1261.75h6M326.00 1201.00h13M326.00 1140.25h6" stroke="#303030" stroke-width="3" fill="none"/>
<path d="M326.00 1682.55h14.40v4.45h-14.40zM372.48 1673.63h15.29v13.37h-15.29zM656.70 1684.97h16.29v2.03h-16.29zM672.49 1661.08h16.29v25.92h-16.29zM688.28 1684.97h15.29v2.03h-15.29zM735.65 1677.68h15.29v9.32h-15.29zM767.23 1684.97h16.29v2.03h-16.29zM783.02 1672.83h15.29v14.17h-15.29zM830.38 1684.57h16.29v2.43h-16.29zM846.17 1685.38h16.29v1.62h-16.29zM861.97 1678.49h16.29v8.51h-16.29zM877.75 1669.59h16.29v17.41h-16.29zM893.55 1674.44h16.29v12.56h-16.29zM909.34 1674.44h16.29v12.56h-16.29zM925.12 1682.55h16.29v4.45h-16.29zM940.92 1672.42h16.29v14.58h-16.29zM956.71 1652.98h16.29v34.02h-16.29zM972.50 1138.63h16.29v548.37h-16.29zM988.29 1400.26h16.29v286.74h-16.29zM1004.08 1539.99h16.29v147.01h-16.29zM1019.87 1585.75h16.29v101.25h-16.29zM1035.65 1529.05h16.29v157.95h-16.29zM1051.45 1677.68h15.29v9.32h-15.29z" fill="#05054a"/>
<path d="M328.90 1684.55h8.60v2.45h-8.60zM375.38 1676.54h9.49v10.47h-9.49zM675.38 1663.98h9.99v23.02h-9.99zM738.55 1680.59h9.49v6.42h-9.49zM785.92 1675.73h9.49v11.27h-9.49zM864.87 1681.39h9.99v5.61h-9.99zM880.65 1672.49h9.99v14.51h-9.99zM896.45 1677.35h9.99v9.66h-9.99zM912.24 1677.35h9.99v9.66h-9.99zM928.02 1684.55h9.99v2.45h-9.99zM943.82 1675.32h9.99v11.68h-9.99zM959.61 1655.88h9.99v31.12h-9.99zM975.40 1141.53h9.99v545.47h-9.99zM991.19 1403.16h9.99v283.84h-9.99zM1006.98 1542.89h9.99v144.11h-9.99zM1022.76 1588.65h9.99v98.35h-9.99zM1038.56 1531.95h9.99v155.05h-9.99zM1054.35 1680.59h9.49v6.42h-9.49z" fill="#0000ff"/>
<rect x="326.00" y="1079.50" width="836.40" height="607.50" fill="none" stroke="#3a3a3a" stroke-width="3.4"/>
<text transform="translate(309.50 1697.30) scale(1.0650 1)" font-size="42.00" text-anchor="end" font-weight="bold" fill="#000">0.00</text>
<text transform="translate(309.50 1578.30) scale(1.0650 1)" font-size="42.00" text-anchor="end" font-weight="bold" fill="#000">0.03</text>
<text transform="translate(309.50 1456.80) scale(1.0650 1)" font-size="42.00" text-anchor="end" font-weight="bold" fill="#000">0.06</text>
<text transform="translate(309.50 1335.30) scale(1.0650 1)" font-size="42.00" text-anchor="end" font-weight="bold" fill="#000">0.09</text>
<text transform="translate(309.50 1213.80) scale(1.0650 1)" font-size="42.00" text-anchor="end" font-weight="bold" fill="#000">0.12</text>
<text transform="translate(309.50 1090.50) scale(1.0650 1)" font-size="42.00" text-anchor="end" font-weight="bold" fill="#000">0.15</text>
<text transform="translate(333.00 1732.90) scale(1.0650 1)" font-size="42.00" text-anchor="middle" font-weight="bold" fill="#000">410</text>
<text transform="translate(490.90 1732.90) scale(1.0650 1)" font-size="42.00" text-anchor="middle" font-weight="bold" fill="#000">420</text>
<text transform="translate(648.80 1732.90) scale(1.0650 1)" font-size="42.00" text-anchor="middle" font-weight="bold" fill="#000">430</text>
<text transform="translate(806.70 1732.90) scale(1.0650 1)" font-size="42.00" text-anchor="middle" font-weight="bold" fill="#000">440</text>
<text transform="translate(964.60 1732.90) scale(1.0650 1)" font-size="42.00" text-anchor="middle" font-weight="bold" fill="#000">450</text>
<text transform="translate(1122.50 1732.90) scale(1.0650 1)" font-size="42.00" text-anchor="middle" font-weight="bold" fill="#000">460</text>
<text transform="translate(742.25 1777.00) scale(1.1250 1)" font-size="40.50" text-anchor="middle" font-weight="bold" letter-spacing="0.90" fill="#000">Peak wavelength</text>
<text transform="translate(219.00 1383.25) rotate(-90) scale(1 1.14)" font-size="43.20" text-anchor="middle" font-weight="bold" fill="#000">Normalized statistical distribution</text>
<text transform="translate(373.00 1154.00) scale(1.1300 1)" font-size="50.00" text-anchor="start" font-weight="bold" fill="#000">100nm</text>
<path d="M1406.60 1686.80v-13M1485.67 1686.80v-6M1564.75 1686.80v-13M1643.82 1686.80v-6M1722.90 1686.80v-13M1801.97 1686.80v-6M1881.05 1686.80v-13M1960.12 1686.80v-6M2039.20 1686.80v-13M2118.27 1686.80v-6M2197.35 1686.80v-13M1398.70 1610.89h6M1398.70 1534.97h13M1398.70 1459.06h6M1398.70 1383.15h13M1398.70 1307.24h6M1398.70 1231.33h13M1398.70 1155.41h6" stroke="#303030" stroke-width="3" fill="none"/>
<path d="M1398.70 1682.62h15.31v4.18h-15.31zM1446.14 1674.27h15.32v12.53h-15.32zM1730.81 1684.90h16.32v1.90h-16.32zM1746.62 1662.51h16.32v24.29h-16.32zM1762.44 1684.90h15.32v1.90h-15.32zM1809.88 1678.07h15.32v8.73h-15.32zM1841.51 1684.90h16.32v1.90h-16.32zM1857.33 1673.52h15.32v13.28h-15.32zM1904.77 1684.52h16.32v2.28h-16.32zM1920.59 1685.28h16.32v1.52h-16.32zM1936.40 1678.83h16.32v7.97h-16.32zM1952.22 1670.48h16.32v16.32h-16.32zM1968.03 1675.03h16.32v11.77h-16.32zM1983.85 1675.03h16.32v11.77h-16.32zM1999.66 1682.62h16.32v4.18h-16.32zM2015.48 1673.14h16.32v13.66h-16.32zM2031.29 1654.92h16.32v31.88h-16.32zM2047.11 1172.49h16.32v514.31h-16.32zM2062.92 1342.54h16.32v344.26h-16.32zM2078.74 1309.14h16.32v377.66h-16.32zM2094.55 1200.96h16.32v485.84h-16.32zM2110.37 1157.31h16.32v529.49h-16.32zM2126.18 1482.97h15.32v203.83h-15.32z" fill="#05054a"/>
<path d="M1401.60 1684.62h9.51v2.18h-9.51zM1449.04 1677.17h9.52v9.63h-9.52zM1749.52 1665.41h10.02v21.39h-10.02zM1812.78 1680.97h9.52v5.83h-9.52zM1860.23 1676.42h9.52v10.38h-9.52zM1939.30 1681.73h10.02v5.07h-10.02zM1955.12 1673.38h10.02v13.42h-10.02zM1970.93 1677.93h10.02v8.87h-10.02zM1986.75 1677.93h10.02v8.87h-10.02zM2002.56 1684.62h10.02v2.18h-10.02zM2018.38 1676.04h10.02v10.76h-10.02zM2034.19 1657.82h10.02v28.98h-10.02zM2050.01 1175.39h10.02v511.41h-10.02zM2065.82 1345.44h10.02v341.36h-10.02zM2081.64 1312.04h10.02v374.76h-10.02zM2097.45 1203.86h10.02v482.94h-10.02zM2113.27 1160.21h10.02v526.59h-10.02zM2129.08 1485.87h9.52v200.93h-9.52z" fill="#0000ff"/>
<rect x="1398.70" y="1079.50" width="839.50" height="607.30" fill="none" stroke="#3a3a3a" stroke-width="3.4"/>
<text transform="translate(1382.20 1697.10) scale(1.0650 1)" font-size="42.00" text-anchor="end" font-weight="bold" fill="#000">0.00</text>
<text transform="translate(1382.20 1547.77) scale(1.0650 1)" font-size="42.00" text-anchor="end" font-weight="bold" fill="#000">0.04</text>
<text transform="translate(1382.20 1395.95) scale(1.0650 1)" font-size="42.00" text-anchor="end" font-weight="bold" fill="#000">0.08</text>
<text transform="translate(1382.20 1244.12) scale(1.0650 1)" font-size="42.00" text-anchor="end" font-weight="bold" fill="#000">0.12</text>
<text transform="translate(1382.20 1090.50) scale(1.0650 1)" font-size="42.00" text-anchor="end" font-weight="bold" fill="#000">0.16</text>
<text transform="translate(1406.60 1732.90) scale(1.0650 1)" font-size="42.00" text-anchor="middle" font-weight="bold" fill="#000">410</text>
<text transform="translate(1564.75 1732.90) scale(1.0650 1)" font-size="42.00" text-anchor="middle" font-weight="bold" fill="#000">420</text>
<text transform="translate(1722.90 1732.90) scale(1.0650 1)" font-size="42.00" text-anchor="middle" font-weight="bold" fill="#000">430</text>
<text transform="translate(1881.05 1732.90) scale(1.0650 1)" font-size="42.00" text-anchor="middle" font-weight="bold" fill="#000">440</text>
<text transform="translate(2039.20 1732.90) scale(1.0650 1)" font-size="42.00" text-anchor="middle" font-weight="bold" fill="#000">450</text>
<text transform="translate(2197.35 1732.90) scale(1.0650 1)" font-size="42.00" text-anchor="middle" font-weight="bold" fill="#000">460</text>
<text transform="translate(1816.47 1777.00) scale(1.1250 1)" font-size="40.50" text-anchor="middle" font-weight="bold" letter-spacing="0.90" fill="#000">Peak wavelength</text>
<text transform="translate(1292.00 1383.15) rotate(-90) scale(1 1.14)" font-size="43.20" text-anchor="middle" font-weight="bold" fill="#000">Normalized statistical distribution</text>
<text transform="translate(1447.00 1154.00) scale(1.1300 1)" font-size="50.00" text-anchor="start" font-weight="bold" fill="#000">200nm</text>
<path d="M322.40 2467.70v-13M401.55 2467.70v-6M480.70 2467.70v-13M559.85 2467.70v-6M639.00 2467.70v-13M718.15 2467.70v-6M797.30 2467.70v-13M876.45 2467.70v-6M955.60 2467.70v-13M1034.75 2467.70v-6M1113.90 2467.70v-13M314.60 2391.32h6M314.60 2314.95h13M314.60 2238.57h6M314.60 2162.20h13M314.60 2085.82h6M314.60 2009.45h13M314.60 1933.08h6" stroke="#303030" stroke-width="3" fill="none"/>
<path d="M314.60 2465.46h15.21v2.24h-15.21zM361.97 2460.98h15.33v6.72h-15.33zM646.91 2466.68h16.33v1.02h-16.33zM662.75 2454.67h16.33v13.03h-16.33zM678.58 2466.68h15.33v1.02h-15.33zM726.07 2463.02h15.33v4.68h-15.33zM757.73 2466.68h16.33v1.02h-16.33zM773.56 2460.57h15.33v7.13h-15.33zM821.05 2466.48h16.33v1.22h-16.33zM836.88 2466.89h16.33v0.81h-16.33zM852.71 2463.42h16.33v4.28h-16.33zM868.53 2458.94h16.33v8.76h-16.33zM884.37 2461.39h16.33v6.31h-16.33zM900.20 2461.39h16.33v6.31h-16.33zM916.03 2465.46h16.33v2.24h-16.33zM931.86 2460.37h16.33v7.33h-16.33zM947.69 2450.59h16.33v17.11h-16.33zM963.51 2236.88h16.33v230.82h-16.33zM979.35 2313.25h16.33v154.45h-16.33zM995.18 2298.49h16.33v169.21h-16.33zM1011.01 2250.46h16.33v217.24h-16.33zM1026.84 2119.77h16.33v347.93h-16.33zM1042.66 1992.48h16.33v475.22h-16.33zM1058.49 1911.01h16.33v556.69h-16.33zM1074.33 2381.65h15.33v86.05h-15.33z" fill="#05054a"/>
<path d="M364.87 2462.98h9.53v4.72h-9.53zM665.65 2457.57h10.03v10.13h-10.03zM728.97 2465.02h9.53v2.68h-9.53zM776.46 2463.47h9.53v4.23h-9.53zM855.61 2465.42h10.03v2.28h-10.03zM871.43 2461.84h10.03v5.86h-10.03zM887.26 2463.39h10.03v4.31h-10.03zM903.10 2463.39h10.03v4.31h-10.03zM934.76 2463.27h10.03v4.43h-10.03zM950.59 2453.49h10.03v14.21h-10.03zM966.41 2239.78h10.03v227.92h-10.03zM982.25 2316.15h10.03v151.55h-10.03zM998.08 2301.39h10.03v166.31h-10.03zM1013.91 2253.36h10.03v214.34h-10.03zM1029.74 2122.67h10.03v345.03h-10.03zM1045.57 1995.38h10.03v472.32h-10.03zM1061.39 1913.91h10.03v553.79h-10.03zM1077.23 2384.55h9.53v83.15h-9.53z" fill="#0000ff"/>
<rect x="314.60" y="1856.70" width="839.10" height="611.00" fill="none" stroke="#3a3a3a" stroke-width="3.4"/>
<text transform="translate(298.10 2478.00) scale(1.0650 1)" font-size="42.00" text-anchor="end" font-weight="bold" fill="#000">0.00</text>
<text transform="translate(298.10 2327.75) scale(1.0650 1)" font-size="42.00" text-anchor="end" font-weight="bold" fill="#000">0.09</text>
<text transform="translate(298.10 2175.00) scale(1.0650 1)" font-size="42.00" text-anchor="end" font-weight="bold" fill="#000">0.18</text>
<text transform="translate(298.10 2022.25) scale(1.0650 1)" font-size="42.00" text-anchor="end" font-weight="bold" fill="#000">0.27</text>
<text transform="translate(298.10 1867.70) scale(1.0650 1)" font-size="42.00" text-anchor="end" font-weight="bold" fill="#000">0.36</text>
<text transform="translate(322.40 2513.90) scale(1.0650 1)" font-size="42.00" text-anchor="middle" font-weight="bold" fill="#000">410</text>
<text transform="translate(480.70 2513.90) scale(1.0650 1)" font-size="42.00" text-anchor="middle" font-weight="bold" fill="#000">420</text>
<text transform="translate(639.00 2513.90) scale(1.0650 1)" font-size="42.00" text-anchor="middle" font-weight="bold" fill="#000">430</text>
<text transform="translate(797.30 2513.90) scale(1.0650 1)" font-size="42.00" text-anchor="middle" font-weight="bold" fill="#000">440</text>
<text transform="translate(955.60 2513.90) scale(1.0650 1)" font-size="42.00" text-anchor="middle" font-weight="bold" fill="#000">450</text>
<text transform="translate(1113.90 2513.90) scale(1.0650 1)" font-size="42.00" text-anchor="middle" font-weight="bold" fill="#000">460</text>
<text transform="translate(732.65 2558.00) scale(1.1250 1)" font-size="40.50" text-anchor="middle" font-weight="bold" letter-spacing="0.90" fill="#000">Peak wavelength</text>
<text transform="translate(206.00 2162.20) rotate(-90) scale(1 1.14)" font-size="43.20" text-anchor="middle" font-weight="bold" fill="#000">Normalized statistical distribution</text>
<text transform="translate(362.00 1931.00) scale(1.1300 1)" font-size="50.00" text-anchor="start" font-weight="bold" fill="#000">400nm</text>
<path d="M1406.60 2467.70v-13M1485.67 2467.70v-6M1564.75 2467.70v-13M1643.82 2467.70v-6M1722.90 2467.70v-13M1801.97 2467.70v-6M1881.05 2467.70v-13M1960.12 2467.70v-6M2039.20 2467.70v-13M2118.27 2467.70v-6M2197.35 2467.70v-13M1398.70 2406.60h6M1398.70 2345.50h13M1398.70 2284.40h6M1398.70 2223.30h13M1398.70 2162.20h6M1398.70 2101.10h13M1398.70 2040.00h6M1398.70 1978.90h13M1398.70 1917.80h6" stroke="#303030" stroke-width="3" fill="none"/>
<path d="M1398.70 2466.66h15.31v1.04h-15.31zM1446.14 2464.58h15.32v3.12h-15.32zM1746.62 2461.66h15.32v6.04h-15.32zM1809.88 2465.53h15.32v2.17h-15.32zM1857.33 2464.40h15.32v3.30h-15.32zM1936.40 2465.72h16.32v1.98h-16.32zM1952.22 2463.64h16.32v4.06h-16.32zM1968.03 2464.77h16.32v2.93h-16.32zM1983.85 2464.77h16.32v2.93h-16.32zM1999.66 2466.66h16.32v1.04h-16.32zM2015.48 2464.30h16.32v3.40h-16.32zM2031.29 2459.77h16.32v7.93h-16.32zM2047.11 2393.16h16.32v74.54h-16.32zM2062.92 2417.38h16.32v50.32h-16.32zM2078.74 2413.27h16.32v54.43h-16.32zM2094.55 2396.60h16.32v71.10h-16.32zM2110.37 2354.39h16.32v113.31h-16.32zM2126.18 2311.06h16.32v156.64h-16.32zM2142.00 2164.42h16.32v303.28h-16.32zM2157.81 1913.36h16.32v554.34h-16.32zM2173.63 2371.50h15.32v96.20h-15.32z" fill="#05054a"/>
<path d="M1749.52 2463.66h9.52v4.04h-9.52zM1955.12 2465.64h10.02v2.06h-10.02zM2034.19 2462.67h10.02v5.03h-10.02zM2050.01 2396.06h10.02v71.64h-10.02zM2065.82 2420.28h10.02v47.42h-10.02zM2081.64 2416.17h10.02v51.53h-10.02zM2097.45 2399.50h10.02v68.20h-10.02zM2113.27 2357.29h10.02v110.41h-10.02zM2129.08 2313.96h10.02v153.74h-10.02zM2144.90 2167.32h10.02v300.38h-10.02zM2160.71 1916.26h10.02v551.44h-10.02zM2176.53 2374.40h9.52v93.30h-9.52z" fill="#0000ff"/>
<rect x="1398.70" y="1856.70" width="839.50" height="611.00" fill="none" stroke="#3a3a3a" stroke-width="3.4"/>
<text transform="translate(1382.20 2478.00) scale(1.0650 1)" font-size="42.00" text-anchor="end" font-weight="bold" fill="#000">0.00</text>
<text transform="translate(1382.20 2358.30) scale(1.0650 1)" font-size="42.00" text-anchor="end" font-weight="bold" fill="#000">0.11</text>
<text transform="translate(1382.20 2236.10) scale(1.0650 1)" font-size="42.00" text-anchor="end" font-weight="bold" fill="#000">0.22</text>
<text transform="translate(1382.20 2113.90) scale(1.0650 1)" font-size="42.00" text-anchor="end" font-weight="bold" fill="#000">0.33</text>
<text transform="translate(1382.20 1991.70) scale(1.0650 1)" font-size="42.00" text-anchor="end" font-weight="bold" fill="#000">0.44</text>
<text transform="translate(1382.20 1867.70) scale(1.0650 1)" font-size="42.00" text-anchor="end" font-weight="bold" fill="#000">0.55</text>
<text transform="translate(1406.60 2513.90) scale(1.0650 1)" font-size="42.00" text-anchor="middle" font-weight="bold" fill="#000">410</text>
<text transform="translate(1564.75 2513.90) scale(1.0650 1)" font-size="42.00" text-anchor="middle" font-weight="bold" fill="#000">420</text>
<text transform="translate(1722.90 2513.90) scale(1.0650 1)" font-size="42.00" text-anchor="middle" font-weight="bold" fill="#000">430</text>
<text transform="translate(1881.05 2513.90) scale(1.0650 1)" font-size="42.00" text-anchor="middle" font-weight="bold" fill="#000">440</text>
<text transform="translate(2039.20 2513.90) scale(1.0650 1)" font-size="42.00" text-anchor="middle" font-weight="bold" fill="#000">450</text>
<text transform="translate(2197.35 2513.90) scale(1.0650 1)" font-size="42.00" text-anchor="middle" font-weight="bold" fill="#000">460</text>
<text transform="translate(1816.47 2558.00) scale(1.1250 1)" font-size="40.50" text-anchor="middle" font-weight="bold" letter-spacing="0.90" fill="#000">Peak wavelength</text>
<text transform="translate(1292.00 2162.20) rotate(-90) scale(1 1.14)" font-size="43.20" text-anchor="middle" font-weight="bold" fill="#000">Normalized statistical distribution</text>
<text transform="translate(1447.00 1931.00) scale(1.1300 1)" font-size="50.00" text-anchor="start" font-weight="bold" fill="#000">800nm</text>
<path d="M420.13 2758.90C422.44 2768.18 429.35 2797.06 433.96 2814.57C438.57 2832.07 443.18 2848.40 447.80 2863.94C452.41 2879.48 457.02 2893.99 461.63 2907.80C466.24 2921.62 470.85 2934.52 475.46 2946.83C480.07 2959.13 484.68 2970.63 489.29 2981.60C493.90 2992.57 498.51 3002.85 503.12 3012.65C507.74 3022.45 512.35 3031.64 516.96 3040.42C521.57 3049.19 526.18 3057.43 530.79 3065.30C535.40 3073.17 540.01 3080.56 544.62 3087.63C549.23 3094.70 553.84 3101.36 558.46 3107.72C563.07 3114.09 567.68 3120.09 572.29 3125.83C576.90 3131.58 581.51 3137.00 586.12 3142.19C590.73 3147.39 595.34 3152.29 599.95 3157.00C604.56 3161.71 609.17 3166.16 613.78 3170.44C618.40 3174.71 623.01 3178.76 627.62 3182.65C632.23 3186.54 636.84 3190.23 641.45 3193.78C646.06 3197.33 650.67 3200.70 655.28 3203.94C659.89 3207.19 664.50 3210.27 669.12 3213.24C673.73 3216.21 678.34 3219.05 682.95 3221.77C687.56 3224.50 692.17 3227.10 696.78 3229.62C701.39 3232.13 706.00 3234.52 710.61 3236.84C715.22 3239.15 719.83 3241.37 724.44 3243.50C729.06 3245.64 733.67 3247.69 738.28 3249.67C742.89 3251.65 747.50 3253.55 752.11 3255.39C756.72 3257.22 761.33 3258.98 765.94 3260.69C770.55 3262.40 775.16 3264.04 779.77 3265.63C784.39 3267.22 789.00 3268.74 793.61 3270.23C798.22 3271.71 802.83 3273.14 807.44 3274.52C812.05 3275.91 816.66 3277.24 821.27 3278.53C825.88 3279.83 830.49 3281.08 835.11 3282.29C839.72 3283.51 844.33 3284.68 848.94 3285.82C853.55 3286.96 858.16 3288.06 862.77 3289.13C867.38 3290.20 871.99 3291.23 876.60 3292.24C881.21 3293.25 885.82 3294.22 890.43 3295.17C895.05 3296.12 899.66 3297.04 904.27 3297.93C908.88 3298.83 913.49 3299.70 918.10 3300.54C922.71 3301.39 927.32 3302.20 931.93 3303.00C936.54 3303.80 941.15 3304.58 945.77 3305.33C950.38 3306.09 954.99 3306.82 959.60 3307.53C964.21 3308.25 968.82 3308.94 973.43 3309.62C978.04 3310.30 982.65 3310.95 987.26 3311.60C991.87 3312.24 996.48 3312.86 1001.10 3313.47C1005.71 3314.08 1010.32 3314.67 1014.93 3315.25C1019.54 3315.83 1024.15 3316.39 1028.76 3316.94C1033.37 3317.49 1037.98 3318.02 1042.59 3318.55C1047.20 3319.07 1051.81 3319.58 1056.42 3320.07C1061.04 3320.57 1065.65 3321.05 1070.26 3321.53C1074.87 3322.00 1079.48 3322.46 1084.09 3322.91C1088.70 3323.36 1093.31 3323.80 1097.92 3324.22C1102.53 3324.65 1107.14 3325.07 1111.75 3325.48C1116.37 3325.88 1120.98 3326.28 1125.59 3326.67C1130.20 3327.06 1134.81 3327.44 1139.42 3327.81C1144.03 3328.18 1148.64 3328.54 1153.25 3328.89C1157.86 3329.25 1162.47 3329.59 1167.09 3329.93C1171.70 3330.27 1176.31 3330.59 1180.92 3330.92C1185.53 3331.24 1190.14 3331.55 1194.75 3331.86C1199.36 3332.17 1203.97 3332.46 1208.58 3332.76C1213.19 3333.05 1217.80 3333.34 1222.41 3333.62C1227.03 3333.90 1231.64 3334.17 1236.25 3334.44C1240.86 3334.70 1245.47 3334.96 1250.08 3335.22C1254.69 3335.47 1259.30 3335.72 1263.91 3335.97C1268.52 3336.21 1273.13 3336.45 1277.74 3336.68C1282.36 3336.91 1286.97 3337.14 1291.58 3337.36C1296.19 3337.59 1300.80 3337.80 1305.41 3338.02C1310.02 3338.23 1314.63 3338.44 1319.24 3338.64C1323.85 3338.84 1328.46 3339.04 1333.08 3339.24C1337.69 3339.43 1342.30 3339.62 1346.91 3339.81C1351.52 3339.99 1357.88 3340.24 1360.74 3340.35C1363.60 3340.46 1363.51 3340.46 1364.06 3340.48" fill="none" stroke="#2e2e2e" stroke-width="3.2"/>
<path d="M420.13 3050.14C429.35 3065.89 457.02 3117.45 475.46 3144.65C493.90 3171.85 512.35 3193.51 530.79 3213.32C549.23 3233.13 567.68 3248.96 586.12 3263.53C604.56 3278.09 623.01 3290.03 641.45 3300.69C659.89 3311.36 678.34 3319.15 696.78 3327.52C715.22 3335.89 733.67 3344.29 752.11 3350.90C770.55 3357.50 789.00 3362.14 807.44 3367.14C825.88 3372.15 844.33 3376.60 862.77 3380.93C881.21 3385.25 899.66 3389.50 918.10 3393.11C936.54 3396.72 954.99 3399.57 973.43 3402.58C991.87 3405.60 1010.32 3408.53 1028.76 3411.20C1047.20 3413.86 1065.65 3416.33 1084.09 3418.58C1102.53 3420.84 1120.98 3422.81 1139.42 3424.73C1157.86 3426.66 1176.31 3428.39 1194.75 3430.15C1213.19 3431.91 1231.64 3433.64 1250.08 3435.32C1268.52 3437.00 1286.97 3438.80 1305.41 3440.24C1323.85 3441.68 1351.52 3443.32 1360.74 3443.93" fill="none" stroke="#ff3333" stroke-width="3.8"/>
<rect x="411.13" y="2746.53" width="18" height="18" fill="#444444"/>
<rect x="466.46" y="2936.54" width="18" height="18" fill="#444444"/>
<rect x="521.79" y="3077.07" width="18" height="18" fill="#444444"/>
<rect x="577.12" y="3141.31" width="18" height="18" fill="#444444"/>
<rect x="632.45" y="3145.99" width="18" height="18" fill="#444444"/>
<rect x="687.78" y="3170.85" width="18" height="18" fill="#444444"/>
<rect x="743.11" y="3260.93" width="18" height="18" fill="#444444"/>
<rect x="798.44" y="3294.15" width="18" height="18" fill="#444444"/>
<rect x="853.77" y="3298.34" width="18" height="18" fill="#444444"/>
<rect x="909.10" y="3283.57" width="18" height="18" fill="#444444"/>
<rect x="964.43" y="3272.99" width="18" height="18" fill="#444444"/>
<rect x="1019.76" y="3324.42" width="18" height="18" fill="#444444"/>
<rect x="1075.09" y="3327.62" width="18" height="18" fill="#444444"/>
<rect x="1130.42" y="3342.39" width="18" height="18" fill="#444444"/>
<rect x="1185.75" y="3320.24" width="18" height="18" fill="#444444"/>
<rect x="1241.08" y="3286.77" width="18" height="18" fill="#444444"/>
<rect x="1296.41" y="3349.28" width="18" height="18" fill="#444444"/>
<rect x="1351.74" y="3303.75" width="18" height="18" fill="#444444"/>
<circle cx="420.13" cy="3050.14" r="10" fill="#ff3333"/>
<circle cx="475.46" cy="3144.65" r="10" fill="#ff3333"/>
<circle cx="530.79" cy="3213.32" r="10" fill="#ff3333"/>
<circle cx="586.12" cy="3263.53" r="10" fill="#ff3333"/>
<circle cx="641.45" cy="3300.69" r="10" fill="#ff3333"/>
<circle cx="696.78" cy="3327.52" r="10" fill="#ff3333"/>
<circle cx="752.11" cy="3350.90" r="10" fill="#ff3333"/>
<circle cx="807.44" cy="3367.14" r="10" fill="#ff3333"/>
<circle cx="862.77" cy="3380.93" r="10" fill="#ff3333"/>
<circle cx="918.10" cy="3393.11" r="10" fill="#ff3333"/>
<circle cx="973.43" cy="3402.58" r="10" fill="#ff3333"/>
<circle cx="1028.76" cy="3411.20" r="10" fill="#ff3333"/>
<circle cx="1084.09" cy="3418.58" r="10" fill="#ff3333"/>
<circle cx="1139.42" cy="3424.73" r="10" fill="#ff3333"/>
<circle cx="1194.75" cy="3430.15" r="10" fill="#ff3333"/>
<circle cx="1250.08" cy="3435.32" r="10" fill="#ff3333"/>
<circle cx="1305.41" cy="3440.24" r="10" fill="#ff3333"/>
<circle cx="1360.74" cy="3443.93" r="10" fill="#ff3333"/>
<rect x="365.30" y="2722.40" width="1052.50" height="775.10" fill="none" stroke="#000" stroke-width="4.6"/>
<path d="M420.63 3497.50v-8M475.96 3497.50v-15M531.29 3497.50v-8M586.62 3497.50v-15M641.95 3497.50v-8M697.28 3497.50v-15M752.61 3497.50v-8M807.94 3497.50v-15M863.27 3497.50v-8M918.60 3497.50v-15M973.93 3497.50v-8M1029.26 3497.50v-15M1084.59 3497.50v-8M1139.92 3497.50v-15M1195.25 3497.50v-8M1250.58 3497.50v-15M1305.91 3497.50v-8M1361.24 3497.50v-15M365.30 3461.13h9M365.30 3399.60h16M365.30 3338.07h9M365.30 3276.54h16M365.30 3215.01h9M365.30 3153.48h16M365.30 3091.95h9M365.30 3030.42h16M365.30 2968.89h9M365.30 2907.36h16M365.30 2845.83h9M365.30 2784.30h16" stroke="#000" stroke-width="3.7" fill="none"/>
<text transform="translate(344.50 3412.60) scale(1.0400 1)" font-size="47.00" text-anchor="end" fill="#000">0.5</text>
<text transform="translate(344.50 3289.54) scale(1.0400 1)" font-size="47.00" text-anchor="end" fill="#000">1.0</text>
<text transform="translate(344.50 3166.48) scale(1.0400 1)" font-size="47.00" text-anchor="end" fill="#000">1.5</text>
<text transform="translate(344.50 3043.42) scale(1.0400 1)" font-size="47.00" text-anchor="end" fill="#000">2.0</text>
<text transform="translate(344.50 2920.36) scale(1.0400 1)" font-size="47.00" text-anchor="end" fill="#000">2.5</text>
<text transform="translate(344.50 2797.30) scale(1.0400 1)" font-size="47.00" text-anchor="end" fill="#000">3.0</text>
<text transform="translate(364.80 3548.50) scale(1.0400 1)" font-size="47.00" text-anchor="middle" fill="#000">2</text>
<text transform="translate(475.46 3548.50) scale(1.0400 1)" font-size="47.00" text-anchor="middle" fill="#000">4</text>
<text transform="translate(586.12 3548.50) scale(1.0400 1)" font-size="47.00" text-anchor="middle" fill="#000">6</text>
<text transform="translate(696.78 3548.50) scale(1.0400 1)" font-size="47.00" text-anchor="middle" fill="#000">8</text>
<text transform="translate(807.44 3548.50) scale(1.0400 1)" font-size="47.00" text-anchor="middle" fill="#000">10</text>
<text transform="translate(918.10 3548.50) scale(1.0400 1)" font-size="47.00" text-anchor="middle" fill="#000">12</text>
<text transform="translate(1028.76 3548.50) scale(1.0400 1)" font-size="47.00" text-anchor="middle" fill="#000">14</text>
<text transform="translate(1139.42 3548.50) scale(1.0400 1)" font-size="47.00" text-anchor="middle" fill="#000">16</text>
<text transform="translate(1250.08 3548.50) scale(1.0400 1)" font-size="47.00" text-anchor="middle" fill="#000">18</text>
<text transform="translate(1360.74 3548.50) scale(1.0400 1)" font-size="47.00" text-anchor="middle" fill="#000">20</text>
<text transform="translate(892.30 3602.50) scale(1.1200 1)" font-size="50.00" text-anchor="middle" font-weight="bold" letter-spacing="0.80" fill="#000">Pillar Diameter (μm)</text>
<text transform="translate(262 3110) rotate(-90) scale(1 1.16)" font-size="50.5" letter-spacing="0.2" text-anchor="middle" font-weight="bold" fill="#000">wavelength offset (nm)</text>
<text transform="translate(41.50 2784.50) scale(0.9750 1)" font-size="85.00" text-anchor="start" font-weight="bold" fill="#000">(c)</text>
<rect x="839.6" y="2758.3" width="518.3" height="118.4" fill="#fff" stroke="#858585" stroke-width="2.8"/>
<path d="M845.4 2791H968.6" stroke="#303030" stroke-width="3.6"/>
<path d="M845.4 2849.7H968.6" stroke="#ff6464" stroke-width="5"/>
<rect x="1017" y="2781.5" width="19.5" height="19.5" fill="#444444"/>
<circle cx="1026.8" cy="2849.7" r="10.3" fill="#ff3333"/>
<text transform="translate(1101.50 2808.00) scale(1.0450 1)" font-size="51.00" text-anchor="start" fill="#000">Experiment</text>
<text transform="translate(1101.50 2866.00) scale(1.0450 1)" font-size="51.00" text-anchor="start" fill="#000">Simulation</text>
</g>
</svg>
</body></html>
